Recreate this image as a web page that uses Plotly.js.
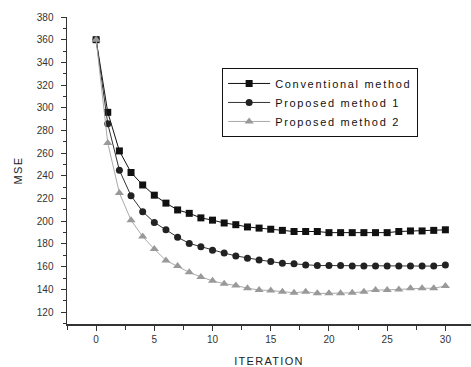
<!DOCTYPE html>
<html>
<head>
<meta charset="utf-8">
<script src="https://cdn.plot.ly/plotly-3.0.1.min.js"></script>
<style>
  html, body { margin: 0; padding: 0; background: #fff; }
  #chart { width: 471px; height: 367px; }
  .legendtext { letter-spacing: 1.7px; }
  .xtitle, .ytitle { letter-spacing: 1.3px; }
</style>
</head>
<body>
<div id="chart"></div>
<script>
const iterations = [0,1,2,3,4,5,6,7,8,9,10,11,12,13,14,15,16,17,18,19,20,21,22,23,24,25,26,27,28,29,30];
const conventional = [360,296,262,243,232,223,216,210,207,203,201,198.5,197,195,194,193,192,191,191,191,190,190,190,190,190,190,191,191.5,191.5,192,192.5];
const proposed1 = [360,286,245,222.5,208.5,199,192.5,186,180.5,177.5,174.5,172,169.5,167.5,166,164.5,163,162.5,161.5,161,161,161,160.5,160.5,160.5,160.5,160.5,160.5,160.5,160.5,161.5];
const proposed2 = [360,269,225,201,186.5,175.5,165.5,160.5,155,151,147.5,145,143.5,141,139.5,139,138,137,138,136.5,136.5,136.5,137,138,139.5,139.5,140,141,141,141,143];
const seriesNames = ['Conventional method', 'Proposed method 1', 'Proposed method 2'];
const xTickVals = [0,5,10,15,20,25,30];
const yTickVals = [120,140,160,180,200,220,240,260,280,300,320,340,360,380];

const traces = [
  {x: iterations, y: conventional, name: seriesNames[0], mode: 'lines+markers',
   line: {color: '#111', width: 1}, marker: {symbol: 'square', size: 7, color: '#111'}},
  {x: iterations, y: proposed1, name: seriesNames[1], mode: 'lines+markers',
   line: {color: '#333', width: 1}, marker: {symbol: 'circle', size: 7, color: '#222'}},
  {x: iterations, y: proposed2, name: seriesNames[2], mode: 'lines+markers',
   line: {color: '#aaa', width: 1}, marker: {symbol: 'triangle-up', size: 8, color: '#999'}}
];

const layout = {
  width: 471, height: 367,
  margin: {l: 67, r: 0, t: 17, b: 43},
  paper_bgcolor: '#fff', plot_bgcolor: '#fff',
  font: {family: 'Liberation Sans, Arial, sans-serif', color: '#222', size: 10},
  showlegend: true,
  legend: {
    x: 0.384, y: 0.834, xanchor: 'left', yanchor: 'top',
    bgcolor: '#fff', bordercolor: '#111', borderwidth: 1,
    font: {size: 11, color: '#111'}, tracegroupgap: 0, itemwidth: 42
  },
  xaxis: {
    range: [-2.5, 32.2], tickvals: xTickVals, ticks: 'outside', ticklen: 5, tickwidth: 1,
    tickcolor: '#333', showline: true, linecolor: '#333', linewidth: 1.5,
    showgrid: false, zeroline: false, tickfont: {size: 10, color: '#333'},
    minor: {dtick: 2.5, tick0: 0, ticks: 'outside', ticklen: 4, tickcolor: '#333', showgrid: false},
    title: {text: 'ITERATION', font: {size: 11, color: '#222'}, standoff: 18}
  },
  yaxis: {
    range: [109.5, 380], tickvals: yTickVals, ticks: 'outside', ticklen: 5, tickwidth: 1,
    tickcolor: '#333', showline: true, linecolor: '#333', linewidth: 1.5,
    showgrid: false, zeroline: false, tickfont: {size: 10, color: '#333'}, ticklabelstandoff: 5,
    minor: {dtick: 10, tick0: 0, ticks: 'outside', ticklen: 3, tickcolor: '#333', showgrid: false},
    title: {text: 'MSE', font: {size: 11, color: '#222'}, standoff: 12}
  }
};

Plotly.newPlot('chart', traces, layout, {displayModeBar: false, staticPlot: true});
</script>
</body>
</html>
